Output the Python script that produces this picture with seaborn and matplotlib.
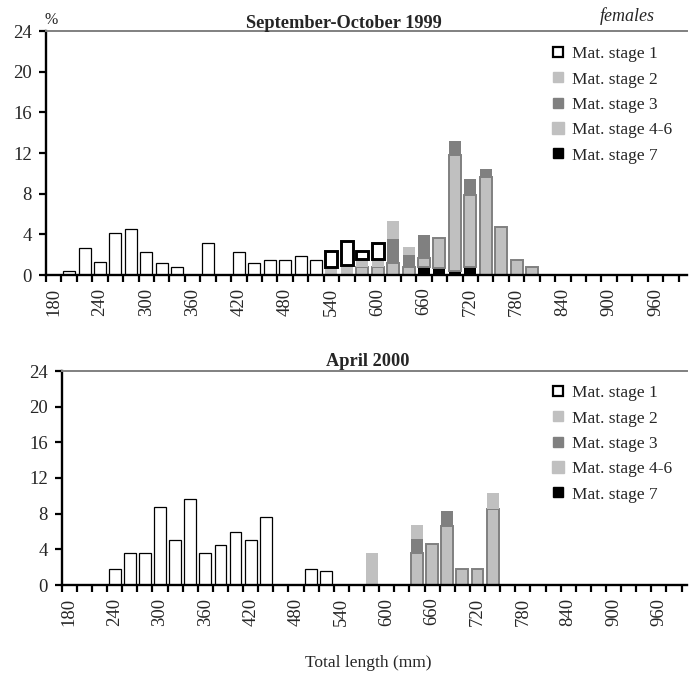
import matplotlib
matplotlib.use("Agg")
import matplotlib.pyplot as plt
from matplotlib.lines import Line2D
import seaborn as sns
import pandas as pd
import numpy as np

sns.set_theme(style="ticks")
plt.rcParams["font.family"] = ["Liberation Serif", "DejaVu Serif"]

# ---------------- data ----------------
length_classes = list(range(180, 1000, 20))           # 41 total-length classes (mm)
tick_labels = [str(v) for v in range(180, 1000, 60)]   # labelled every 3rd class
stage_names = ["Mat. stage 1", "Mat. stage 2", "Mat. stage 3", "Mat. stage 4-6", "Mat. stage 7"]

# September-October 1999, % per length class and maturity stage
sep_stage1 = {200: 0.4, 220: 2.7, 240: 1.3, 260: 4.1, 280: 4.5, 300: 2.3, 320: 1.15, 340: 0.75,
              380: 3.1, 420: 2.3, 440: 1.15, 460: 1.5, 480: 1.5, 500: 1.9, 520: 1.5,
              540: 1.6, 560: 2.35, 580: 0.85, 600: 1.6}
sep_stage2 = {540: 0.8, 560: 1.0, 580: 0.75, 600: 0.75, 620: 1.75, 640: 0.85}
sep_stage3 = {620: 2.4, 640: 1.2, 660: 2.3, 700: 1.35, 720: 1.55, 740: 0.8}
sep_stage46 = {580: 0.8, 600: 0.8, 620: 1.15, 640: 0.75, 660: 0.9, 680: 2.9, 700: 11.5,
               720: 7.1, 740: 9.6, 760: 4.7, 780: 1.5, 800: 0.75}
sep_stage7 = {660: 0.75, 680: 0.7, 700: 0.35, 720: 0.8}

# April 2000
apr_stage1 = {240: 1.8, 260: 3.55, 280: 3.55, 300: 8.7, 320: 5.1, 340: 9.6, 360: 3.55,
              380: 4.45, 400: 6.0, 420: 5.1, 440: 7.6, 500: 1.75, 520: 1.55}
apr_stage2 = {580: 3.6, 640: 1.6, 740: 1.8}
apr_stage3 = {640: 1.6, 680: 1.65}
apr_stage46 = {640: 3.55, 660: 4.65, 680: 6.65, 700: 1.75, 720: 1.75, 740: 8.5}
apr_stage7 = {}

panel_titles = ["September-October 1999", "April 2000"]

# ---------------- styles ----------------
LIGHT = "#C0C0C0"
DARK = "#808080"
styles = {
    "Mat. stage 7": dict(fc="black", ec="none", lw=0),
    "Mat. stage 4-6": dict(fc=LIGHT, ec=DARK, lw=1.4),
    "Mat. stage 3": dict(fc=DARK, ec="none", lw=0),
    "Mat. stage 2": dict(fc=LIGHT, ec="none", lw=0),
    "Mat. stage 1": dict(fc="white", ec="black", lw=0.9),
}
W, H = 690, 677
FS = 12.5


def fx(x):
    return x / W


def fy(y):
    return 1 - y / H


def draw_panel(ax, layers, xmax):
    bottom = np.zeros(len(length_classes))
    cats = [str(v) for v in length_classes]
    for name, values in layers:
        heights = np.array([values.get(v, 0.0) for v in length_classes])
        df = pd.DataFrame({"length": cats, "pct": heights})
        st = styles[name]
        sns.barplot(data=df, x="length", y="pct", order=cats, color=st["fc"], saturation=1,
                    width=0.78, errorbar=None, edgecolor=st["ec"], linewidth=st["lw"],
                    bottom=bottom.copy(), ax=ax, zorder=2)
        cont = ax.containers[-1]
        for p in cont.patches:
            if p.get_height() <= 0:
                p.set_visible(False)
            elif name == "Mat. stage 1" and p.get_y() > 0:
                p.set_linewidth(2.1)
        bottom += heights

    ax.set_xlim(-0.5, xmax)
    ax.set_ylim(0, 24)
    ax.set_yticks(range(0, 25, 4))
    ax.set_xticks(range(0, len(length_classes), 3))
    ax.set_xticklabels(tick_labels, rotation=90)
    ax.set_xticks(np.arange(-0.5, len(length_classes), 1), minor=True)
    ax.tick_params(axis="x", which="major", length=0, pad=9, labelsize=FS + 1)
    ax.tick_params(axis="x", which="minor", length=5, width=1.6, direction="out",
                   color="black", bottom=True)
    ax.tick_params(axis="y", which="major", length=5, width=1.6, direction="out",
                   color="black", pad=5, labelsize=FS + 1, left=True)
    ax.set_xlabel("")
    ax.set_ylabel("")
    ax.spines["right"].set_visible(False)
    ax.spines["top"].set_color(DARK)
    ax.spines["top"].set_linewidth(1.4)
    for s in ("left", "bottom"):
        ax.spines[s].set_color("black")
        ax.spines[s].set_linewidth(1.7)
    ax.set_facecolor("white")


def add_legend(ax, x_px, y_px):
    handles = [
        Line2D([], [], ls="none", marker="s", markersize=7.5, markerfacecolor="white",
               markeredgecolor="black", markeredgewidth=1.6),
        Line2D([], [], ls="none", marker="s", markersize=6.5, markerfacecolor=LIGHT,
               markeredgecolor=LIGHT),
        Line2D([], [], ls="none", marker="s", markersize=6.5, markerfacecolor=DARK,
               markeredgecolor=DARK),
        Line2D([], [], ls="none", marker="s", markersize=8.5, markerfacecolor=LIGHT,
               markeredgecolor=LIGHT),
        Line2D([], [], ls="none", marker="s", markersize=6.5, markerfacecolor="black",
               markeredgecolor="black"),
    ]
    ax.legend(handles, stage_names, loc="upper left", bbox_to_anchor=(fx(x_px), fy(y_px)),
              bbox_transform=ax.figure.transFigure, frameon=False, fontsize=FS,
              handlelength=1.0, handletextpad=0.3, labelspacing=0.53, borderpad=0,
              borderaxespad=0)


fig = plt.figure(figsize=(W / 100, H / 100), dpi=100)
fig.patch.set_facecolor("white")

ax1 = fig.add_axes([fx(46), fy(275), fx(687) - fx(46), (275 - 31) / H])
ax2 = fig.add_axes([fx(61.7), fy(585), fx(687) - fx(61.7), (585 - 371) / H])

draw_panel(ax1, [("Mat. stage 7", sep_stage7), ("Mat. stage 4-6", sep_stage46),
                 ("Mat. stage 3", sep_stage3), ("Mat. stage 2", sep_stage2),
                 ("Mat. stage 1", sep_stage1)], xmax=-0.5 + (687 - 46) / 15.43)
draw_panel(ax2, [("Mat. stage 7", apr_stage7), ("Mat. stage 4-6", apr_stage46),
                 ("Mat. stage 3", apr_stage3), ("Mat. stage 2", apr_stage2),
                 ("Mat. stage 1", apr_stage1)], xmax=-0.5 + (687 - 61.7) / 15.12)

add_legend(ax1, 549, 46)
add_legend(ax2, 549, 385)

fig.text(fx(344), fy(23), panel_titles[0], ha="center", va="center", fontsize=FS + 0.7,
         fontweight="bold")
fig.text(fx(367.5), fy(361), panel_titles[1], ha="center", va="center", fontsize=FS + 0.7,
         fontweight="bold")
fig.text(fx(627), fy(16), "females", ha="center", va="center", fontsize=FS + 0.5, style="italic")
fig.text(fx(51), fy(20), "%", ha="center", va="center", fontsize=FS - 1)
fig.text(fx(368), fy(663), "Total length (mm)", ha="center", va="center", fontsize=FS)

fig.savefig("out.png", dpi=100, facecolor="white")
